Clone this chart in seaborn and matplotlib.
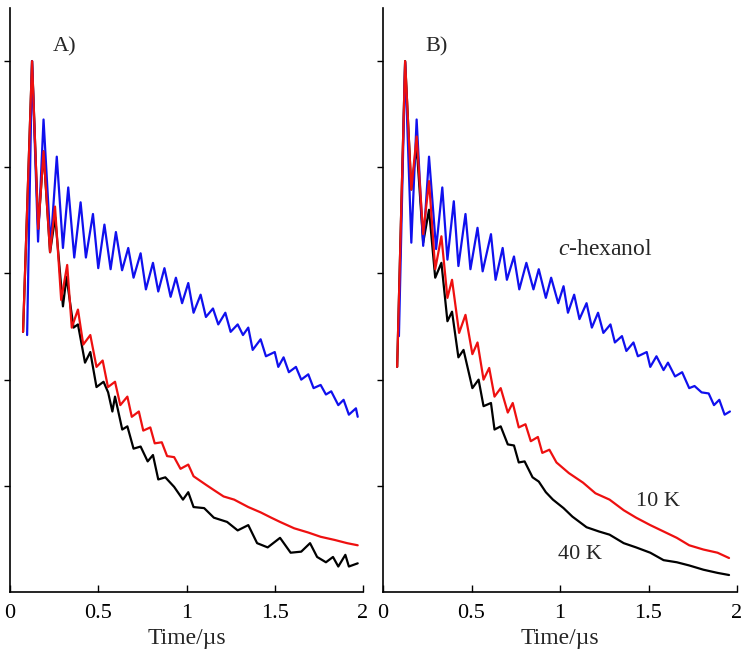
import seaborn as sns
from matplotlib import pyplot as plt

# panel A: c-hexanol (blue), 10 K (red), 40 K (black)
blue_a_t = [0.097, 0.125, 0.159, 0.19, 0.23, 0.265, 0.30, 0.33, 0.364, 0.40, 0.43, 0.47, 0.50, 0.535, 0.57,
            0.60, 0.635, 0.67, 0.70, 0.74, 0.77, 0.81, 0.84, 0.875, 0.91, 0.94, 0.975, 1.01, 1.04, 1.08,
            1.11, 1.15, 1.18, 1.22, 1.25, 1.29, 1.32, 1.35, 1.375, 1.42, 1.45, 1.50, 1.52, 1.55, 1.58,
            1.62, 1.65, 1.69, 1.72, 1.76, 1.79, 1.82, 1.86, 1.89, 1.92, 1.96, 1.97]
blue_a_v = [2.42, 5.0, 3.30, 4.45, 3.26, 4.10, 3.24, 3.81, 3.15, 3.67, 3.15, 3.56, 3.05, 3.46, 3.04,
            3.39, 3.03, 3.24, 2.96, 3.19, 2.85, 3.10, 2.83, 3.05, 2.78, 2.96, 2.72, 2.91, 2.63, 2.80,
            2.59, 2.67, 2.52, 2.63, 2.45, 2.52, 2.42, 2.49, 2.28, 2.38, 2.22, 2.26, 2.12, 2.21, 2.07,
            2.12, 2.0, 2.05, 1.92, 1.95, 1.86, 1.89, 1.76, 1.81, 1.67, 1.73, 1.65]

red_a_t = [0.074, 0.125, 0.16, 0.19, 0.227, 0.255, 0.29, 0.324, 0.35, 0.385, 0.415, 0.455, 0.49, 0.525, 0.555,
           0.595, 0.625, 0.665, 0.69, 0.73, 0.755, 0.795, 0.82, 0.86, 0.89, 0.93, 0.966, 1.01, 1.04, 1.11,
           1.155, 1.21, 1.27, 1.35, 1.42, 1.48, 1.53, 1.61, 1.69, 1.76, 1.84, 1.91, 1.97]
red_a_v = [2.45, 5.0, 3.42, 4.15, 3.20, 3.63, 2.75, 3.08, 2.49, 2.66, 2.33, 2.42, 2.12, 2.18, 1.93,
           1.98, 1.76, 1.84, 1.65, 1.70, 1.52, 1.55, 1.40, 1.41, 1.28, 1.27, 1.16, 1.20, 1.09, 1.01,
           0.96, 0.90, 0.87, 0.80, 0.75, 0.70, 0.66, 0.60, 0.56, 0.52, 0.49, 0.46, 0.44]

black_a_t = [0.074, 0.125, 0.16, 0.19, 0.227, 0.256, 0.30, 0.32, 0.36, 0.385, 0.425, 0.455, 0.49, 0.53, 0.556,
             0.58, 0.595, 0.636, 0.665, 0.70, 0.74, 0.78, 0.81, 0.84, 0.88, 0.93, 0.98, 1.01, 1.04, 1.10,
             1.155, 1.23, 1.29, 1.35, 1.40, 1.46, 1.53, 1.59, 1.65, 1.70, 1.74, 1.79, 1.83, 1.86, 1.90,
             1.92, 1.97]
black_a_v = [2.45, 5.0, 3.42, 4.15, 3.20, 3.53, 2.69, 2.97, 2.49, 2.52, 2.16, 2.26, 1.93, 1.98, 1.88,
             1.70, 1.84, 1.53, 1.56, 1.35, 1.37, 1.23, 1.29, 1.06, 1.08, 0.99, 0.87, 0.94, 0.80, 0.79,
             0.70, 0.66, 0.58, 0.63, 0.46, 0.42, 0.51, 0.37, 0.38, 0.46, 0.33, 0.28, 0.33, 0.24, 0.35,
             0.24, 0.27]

# panel B
blue_b_t = [0.09, 0.125, 0.16, 0.19, 0.227, 0.26, 0.30, 0.335, 0.364, 0.40, 0.426, 0.466, 0.494, 0.534, 0.563,
            0.61, 0.636, 0.676, 0.70, 0.74, 0.77, 0.81, 0.85, 0.88, 0.92, 0.95, 0.99, 1.02, 1.045, 1.08,
            1.11, 1.15, 1.18, 1.215, 1.245, 1.285, 1.31, 1.35, 1.375, 1.415, 1.44, 1.49, 1.51, 1.545, 1.585,
            1.61, 1.65, 1.69, 1.73, 1.76, 1.80, 1.84, 1.87, 1.90, 1.93, 1.96]
blue_b_v = [2.41, 4.99, 3.29, 4.45, 3.26, 4.10, 3.23, 3.81, 3.13, 3.68, 3.07, 3.56, 3.04, 3.43, 3.02,
            3.37, 2.94, 3.24, 2.94, 3.16, 2.85, 3.10, 2.85, 3.04, 2.77, 2.96, 2.72, 2.88, 2.63, 2.80,
            2.57, 2.72, 2.49, 2.63, 2.44, 2.52, 2.35, 2.41, 2.27, 2.35, 2.22, 2.26, 2.12, 2.22, 2.09,
            2.16, 2.03, 2.07, 1.92, 1.94, 1.88, 1.87, 1.76, 1.81, 1.67, 1.70]

red_b_t = [0.08, 0.125, 0.16, 0.19, 0.227, 0.26, 0.295, 0.33, 0.364, 0.39, 0.43, 0.466, 0.505, 0.534, 0.568,
           0.60, 0.63, 0.665, 0.705, 0.733, 0.767, 0.805, 0.835, 0.875, 0.90, 0.94, 0.98, 1.05, 1.13, 1.20,
           1.28, 1.36, 1.43, 1.51, 1.585, 1.66, 1.73, 1.81, 1.89, 1.955]
red_b_v = [2.12, 5.0, 3.79, 4.29, 3.37, 3.87, 3.04, 3.35, 2.77, 2.94, 2.44, 2.61, 2.24, 2.35, 2.0,
           2.11, 1.84, 1.92, 1.69, 1.78, 1.55, 1.58, 1.42, 1.46, 1.31, 1.34, 1.22, 1.12, 1.03, 0.93,
           0.87, 0.77, 0.70, 0.63, 0.57, 0.51, 0.44, 0.40, 0.37, 0.32]

black_b_t = [0.08, 0.125, 0.16, 0.19, 0.227, 0.26, 0.295, 0.33, 0.364, 0.39, 0.426, 0.455, 0.505, 0.54, 0.568,
             0.61, 0.63, 0.665, 0.705, 0.74, 0.767, 0.80, 0.845, 0.88, 0.92, 0.96, 1.02, 1.07, 1.15, 1.22,
             1.28, 1.36, 1.43, 1.51, 1.585, 1.66, 1.73, 1.81, 1.89, 1.955]
black_b_v = [2.12, 5.0, 3.79, 4.20, 3.29, 3.60, 2.96, 3.10, 2.55, 2.64, 2.21, 2.28, 1.92, 2.0, 1.75,
             1.78, 1.53, 1.56, 1.39, 1.38, 1.22, 1.23, 1.08, 1.04, 0.94, 0.87, 0.79, 0.71, 0.61, 0.57,
             0.54, 0.46, 0.42, 0.37, 0.30, 0.28, 0.25, 0.21, 0.18, 0.16]

x_ticks = [0, 0.5, 1, 1.5, 2]
x_tick_labels = ["0", "0.5", "1", "1.5", "2"]
y_ticks = [1, 2, 3, 4, 5]


def draw_panel(ax, series, tag):
    for t, v, color in series:
        sns.lineplot(x=t, y=v, color=color, lw=1.6, estimator=None, sort=False, ax=ax)
    ax.set_xlim(0, 2)
    ax.set_ylim(0, 5.5)
    sns.despine(ax=ax)
    for side in ["left", "bottom"]:
        ax.spines[side].set_linewidth(1.2)
        ax.spines[side].set_color("black")
    ax.set_xticks(x_ticks, x_tick_labels)
    ax.set_yticks(y_ticks, [])
    ax.tick_params(axis="x", direction="in", length=5, width=1, pad=9, labelsize=16, colors="black")
    ax.tick_params(axis="y", direction="out", length=4, width=1, colors="black")
    ax.set_xlabel("Time/\u00b5s", fontsize=17, labelpad=3)
    ax.set_ylabel("")
    ax.text(0.24, 5.13, tag, fontsize=16, va="center", ha="left")


def main():
    sns.set_style("ticks")
    plt.rcParams["font.family"] = ["Liberation Serif", "DejaVu Serif"]
    plt.rcParams["mathtext.fontset"] = "custom"
    plt.rcParams["mathtext.rm"] = "Liberation Serif"
    plt.rcParams["mathtext.it"] = "Liberation Serif:italic"

    fig = plt.figure(figsize=(7.5, 6.58), dpi=100)
    ax_a = fig.add_axes([10 / 750, 66 / 658, 353 / 750, 584 / 658])
    ax_b = fig.add_axes([383 / 750, 66 / 658, 354 / 750, 584 / 658])

    # black first, red last so that red sits on top like in the original
    draw_panel(ax_a, [(black_a_t, black_a_v, "black"), (blue_a_t, blue_a_v, "#1010ee"),
                      (red_a_t, red_a_v, "#ee1010")], "A)")
    draw_panel(ax_b, [(black_b_t, black_b_v, "black"), (blue_b_t, blue_b_v, "#1010ee"),
                      (red_b_t, red_b_v, "#ee1010")], "B)")

    ax_b.text(0.99, 3.23, r"$\mathit{c}$-hexanol", fontsize=17, va="center", ha="left")
    ax_b.text(1.43, 0.85, "10 K", fontsize=16, va="center", ha="left")
    ax_b.text(0.99, 0.35, "40 K", fontsize=16, va="center", ha="left")

    fig.savefig("out.png", dpi=100)
    plt.close(fig)


if __name__ == '__main__':
    main()
